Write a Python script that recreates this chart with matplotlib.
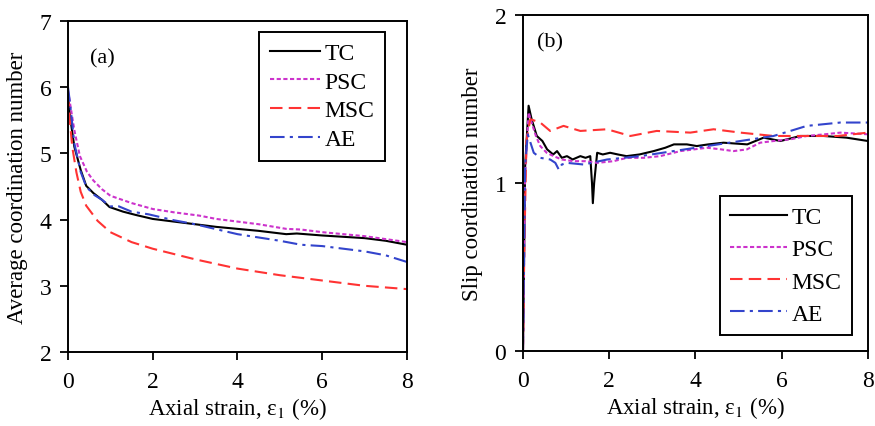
import numpy as np
import matplotlib
matplotlib.use("Agg")
import matplotlib.pyplot as plt

plt.rcParams['font.family'] = ['Liberation Serif', 'DejaVu Serif']
plt.rcParams['mathtext.fontset'] = 'stix'

# (a) average coordination number
a_tc_x  = [0.0, 0.05, 0.15, 0.3, 0.43, 0.6, 0.8, 0.98, 1.3, 1.6, 2.0, 2.5, 3.0, 3.5, 4.0, 4.5, 5.15, 5.4, 6.0, 7.0, 7.5, 8.0]
a_tc_y  = [5.9, 5.55, 5.1, 4.75, 4.51, 4.4, 4.3, 4.19, 4.12, 4.07, 4.01, 3.97, 3.93, 3.89, 3.86, 3.83, 3.78, 3.79, 3.76, 3.72, 3.68, 3.62]
a_psc_x = [0.0, 0.05, 0.15, 0.28, 0.45, 0.6, 0.8, 1.0, 1.5, 2.0, 2.5, 3.1, 3.5, 4.0, 4.5, 5.15, 5.5, 6.0, 7.0, 8.0]
a_psc_y = [5.95, 5.75, 5.35, 4.96, 4.72, 4.59, 4.46, 4.36, 4.25, 4.16, 4.11, 4.06, 4.01, 3.97, 3.93, 3.86, 3.85, 3.81, 3.75, 3.66]
a_msc_x = [0.0, 0.05, 0.1, 0.2, 0.3, 0.43, 0.7, 1.0, 1.5, 2.0, 3.0, 4.0, 5.0, 6.0, 7.0, 8.0]
a_msc_y = [5.9, 5.45, 5.1, 4.71, 4.42, 4.21, 3.98, 3.81, 3.66, 3.56, 3.4, 3.26, 3.16, 3.08, 3.0, 2.95]
a_ae_x  = [0.0, 0.05, 0.15, 0.3, 0.43, 0.6, 0.8, 1.0, 1.2, 1.5, 1.9, 2.5, 3.0, 4.0, 5.0, 5.5, 6.0, 7.0, 7.5, 8.0]
a_ae_y  = [6.0, 5.75, 5.15, 4.72, 4.5, 4.38, 4.3, 4.2, 4.2, 4.12, 4.08, 3.99, 3.93, 3.78, 3.68, 3.62, 3.6, 3.52, 3.46, 3.36]

# (b) slip coordination number
b_tc_x  = [0.0, 0.05, 0.13, 0.2, 0.32, 0.45, 0.56, 0.7, 0.79, 0.9, 1.02, 1.15, 1.33, 1.45, 1.56, 1.6, 1.62, 1.65, 1.72, 1.85, 2.02, 2.2, 2.4, 2.7, 3.03, 3.3, 3.5, 3.8, 4.03, 4.3, 4.65, 5.2, 5.58, 5.97, 6.43, 6.97, 7.5, 8.0]
b_tc_y  = [0.0, 1.1, 1.46, 1.38, 1.28, 1.25, 1.2, 1.17, 1.19, 1.15, 1.16, 1.14, 1.16, 1.15, 1.16, 1.0, 0.88, 1.0, 1.18, 1.17, 1.18, 1.17, 1.16, 1.17, 1.19, 1.21, 1.23, 1.23, 1.22, 1.23, 1.24, 1.23, 1.27, 1.25, 1.28, 1.28, 1.27, 1.25]
b_psc_x = [0.0, 0.05, 0.13, 0.2, 0.3, 0.4, 0.55, 0.71, 0.9, 1.17, 1.45, 1.72, 2.1, 2.41, 2.8, 3.18, 3.65, 4.27, 4.6, 4.88, 5.19, 5.5, 5.81, 6.2, 6.58, 7.0, 7.36, 8.0]
b_psc_y = [0.0, 1.05, 1.42, 1.36, 1.28, 1.22, 1.18, 1.16, 1.14, 1.13, 1.13, 1.12, 1.13, 1.15, 1.15, 1.16, 1.19, 1.21, 1.2, 1.19, 1.2, 1.24, 1.25, 1.26, 1.28, 1.29, 1.3, 1.29]
b_msc_x = [0.0, 0.03, 0.08, 0.17, 0.4, 0.63, 0.94, 1.33, 1.95, 2.49, 3.1, 3.88, 4.42, 5.04, 5.81, 6.58, 7.3, 8.0]
b_msc_y = [0.0, 0.6, 1.25, 1.38, 1.36, 1.31, 1.34, 1.31, 1.32, 1.28, 1.31, 1.30, 1.32, 1.30, 1.28, 1.28, 1.28, 1.30]
b_ae_x  = [0.0, 0.05, 0.11, 0.25, 0.4, 0.63, 0.75, 0.83, 0.9, 1.02, 1.41, 1.95, 2.72, 3.49, 4.27, 5.04, 5.81, 6.2, 6.58, 7.36, 8.0]
b_ae_y  = [0.0, 1.1, 1.29, 1.18, 1.15, 1.14, 1.12, 1.08, 1.11, 1.12, 1.11, 1.14, 1.16, 1.19, 1.22, 1.25, 1.28, 1.31, 1.34, 1.36, 1.36]

labels = ['TC', 'PSC', 'MSC', 'AE']
colors = ['black', '#cc33cc', '#ff3333', '#3344cc']
styles = ['-', (0, (2, 1.2)), (0, (6, 3)), (0, (7, 2.5, 1.5, 2.5))]

fig = plt.figure(figsize=(8.75, 4.27), dpi=100)
ax1 = fig.add_axes([0.0777, 0.1733, 0.3874, 0.7752])
ax2 = fig.add_axes([0.5977, 0.1756, 0.3943, 0.7869])

data_a = [(a_tc_x, a_tc_y), (a_psc_x, a_psc_y), (a_msc_x, a_msc_y), (a_ae_x, a_ae_y)]
data_b = [(b_tc_x, b_tc_y), (b_psc_x, b_psc_y), (b_msc_x, b_msc_y), (b_ae_x, b_ae_y)]

for ax, data in [(ax1, data_a), (ax2, data_b)]:
    for (x, y), lab, c, ls in zip(data, labels, colors, styles):
        ax.plot(x, y, color=c, ls=ls, lw=1.5, label=lab)
    ax.set_xlim(0, 8)
    ax.set_xticks([0, 2, 4, 6, 8])
    ax.tick_params(direction='out', length=6, width=1.3, labelsize=17, top=False, right=False)
    ax.tick_params(axis='x', pad=8)
    ax.tick_params(axis='y', pad=6)
    for s in ax.spines.values():
        s.set_linewidth(1.4)
    ax.set_xlabel('Axial strain, ε$_1$ (%)', fontsize=16.5, labelpad=2)

ax1.set_ylim(2, 7)
ax1.set_yticks([2, 3, 4, 5, 6, 7])
ax1.set_ylabel('Average coordination number', fontsize=16.5, labelpad=8)
ax1.text(0.065, 0.89, '(a)', transform=ax1.transAxes, fontsize=16, va='center')
leg1 = ax1.legend(loc='upper right', bbox_to_anchor=(0.935, 0.967), fontsize=17,
                  handlelength=2.1, labelspacing=0.3, borderpad=0.45, handletextpad=0.2,
                  borderaxespad=0, fancybox=False, edgecolor='black', framealpha=1)
leg1.get_frame().set_linewidth(1.4)

ax2.set_ylim(0, 2)
ax2.set_yticks([0, 1, 2])
ax2.set_ylabel('Slip coordination number', fontsize=16.5, labelpad=8)
ax2.text(0.04, 0.92, '(b)', transform=ax2.transAxes, fontsize=16, va='center')
leg2 = ax2.legend(loc='upper right', bbox_to_anchor=(0.954, 0.461), fontsize=17,
                  handlelength=2.4, labelspacing=0.45, borderpad=0.45, handletextpad=0.2,
                  borderaxespad=0, fancybox=False, edgecolor='black', framealpha=1)
leg2.get_frame().set_linewidth(1.4)

fig.savefig('out.png', dpi=100)
